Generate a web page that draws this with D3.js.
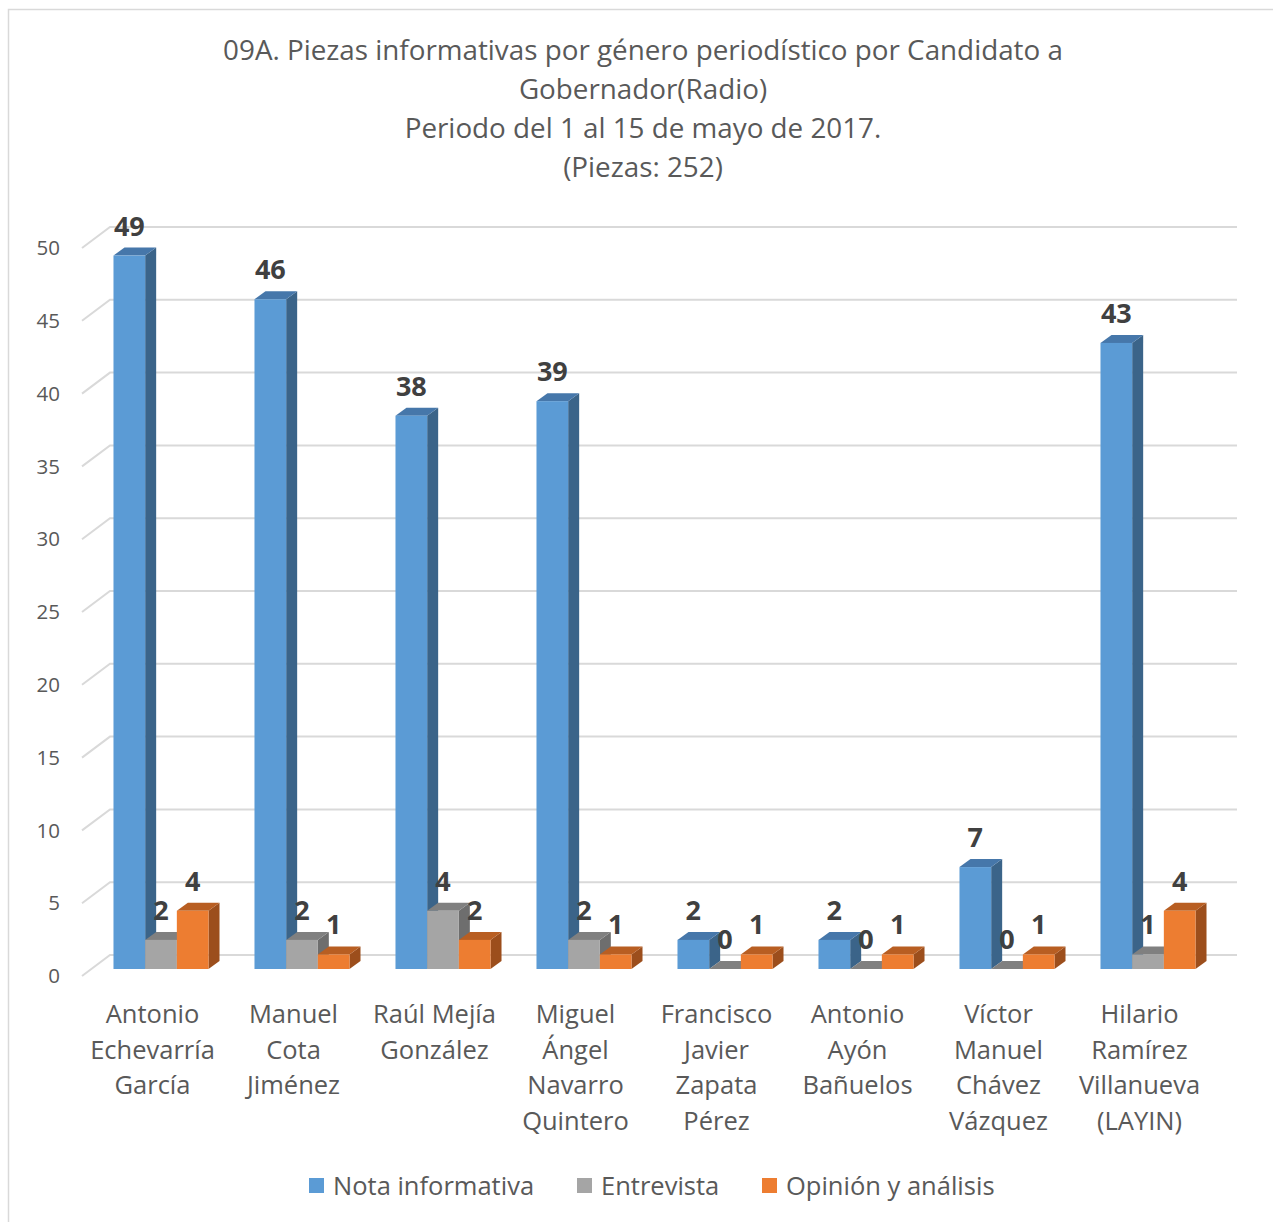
<!DOCTYPE html>
<html><head><meta charset="utf-8">
<script src="https://cdnjs.cloudflare.com/ajax/libs/d3/7.8.5/d3.min.js"></script>
<style>body{margin:0;background:#fff}svg{display:block}text{font-family:"Open Sans",sans-serif}</style>
</head><body><svg id="c" width="1273" height="1222"></svg>
<script>
const titleLines = ["09A. Piezas informativas por género periodístico por Candidato a","Gobernador(Radio)","Periodo del 1 al 15 de mayo de 2017.","(Piezas: 252)"];
const categories = ["Antonio\nEchevarría\nGarcía","Manuel\nCota\nJiménez","Raúl Mejía\nGonzález","Miguel\nÁngel\nNavarro\nQuintero","Francisco\nJavier\nZapata\nPérez","Antonio\nAyón\nBañuelos","Víctor\nManuel\nChávez\nVázquez","Hilario\nRamírez\nVillanueva\n(LAYIN)"];
const seriesNames = ["Nota informativa","Entrevista","Opinión y análisis"];
const notaInformativa = [49,46,38,39,2,2,7,43];
const entrevista = [2,2,4,2,0,0,0,1];
const opinionAnalisis = [4,1,2,1,1,1,1,4];
const yTicks = [0,5,10,15,20,25,30,35,40,45,50];

const seriesValues = [notaInformativa, entrevista, opinionAnalisis];
const colors = [
  {front:"#5B9BD5", top:"#4677AA", side:"#3B6489"},
  {front:"#A5A5A5", top:"#808080", side:"#6E6E6E"},
  {front:"#ED7D31", top:"#B85E22", side:"#9C4E1C"}
];

const svg = d3.select("#c");
svg.append("rect").attr("x",8.5).attr("y",9.5).attr("width",1300).attr("height",1300)
  .attr("fill","none").attr("stroke","#D9D9D9").attr("stroke-width",1.5);

// title
svg.append("g").selectAll("text").data(titleLines).join("text")
  .attr("x",643).attr("y",(d,i)=>60+i*39).attr("text-anchor","middle")
  .attr("font-size",27.8).attr("fill","#595959").text(d=>d);

const y = d3.scaleLinear().domain([0,50]).range([976,248]);
const dX = 28, dY = 21; // wall depth
const bX = 11, bY = 8;  // bar depth
const barShiftY = 7;

// gridlines
const grid = svg.append("g").attr("stroke","#D9D9D9").attr("stroke-width",2).attr("fill","none");
yTicks.forEach(v=>{
  grid.append("path").attr("d",`M82,${y(v)}L${82+dX},${y(v)-dY}L1237,${y(v)-dY}`);
});

// y labels
svg.append("g").selectAll("text").data(yTicks).join("text")
  .attr("x",60).attr("y",d=>y(d)).attr("dy","0.35em").attr("text-anchor","end")
  .attr("font-size",20.5).attr("fill","#595959").text(d=>d);

const x = d3.scaleBand().domain(d3.range(categories.length)).range([90.5,1218.5]).paddingInner(0.326).paddingOuter(0.163);
const xs = d3.scaleBand().domain(d3.range(seriesNames.length)).range([0,x.bandwidth()]);
const yb = v => y(v)-barShiftY;

const bars = svg.append("g");
categories.forEach((c,ci)=>{
  seriesValues.forEach((vals,si)=>{
    const v = vals[ci];
    const x0 = x(ci)+xs(si), w = xs.bandwidth();
    const yt = yb(v), y0 = yb(0);
    const g = bars.append("g");
    g.append("path").attr("fill",colors[si].side)
      .attr("d",`M${x0+w},${yt}L${x0+w+bX},${yt-bY}L${x0+w+bX},${y0-bY}L${x0+w},${y0}Z`);
    g.append("path").attr("fill",colors[si].top)
      .attr("d",`M${x0},${yt}L${x0+bX},${yt-bY}L${x0+w+bX},${yt-bY}L${x0+w},${yt}Z`);
    g.append("rect").attr("fill",colors[si].front).attr("x",x0).attr("y",yt).attr("width",w).attr("height",y0-yt);
  });
});
// value labels
const lab = svg.append("g");
categories.forEach((c,ci)=>{
  seriesValues.forEach((vals,si)=>{
    const v = vals[ci];
    lab.append("text").attr("x",x(ci)+xs(si)+xs.bandwidth()/2).attr("y",yb(v)-20)
      .attr("text-anchor","middle").attr("font-size",27).attr("font-weight","bold")
      .attr("fill","#404040").text(v);
  });
});

// category labels
const cat = svg.append("g");
categories.forEach((c,ci)=>{
  const cx = 82 + (ci+0.5)*141;
  const t = cat.append("text").attr("text-anchor","middle").attr("font-size",25.5).attr("fill","#595959");
  c.split("\n").forEach((ln,li)=>{
    t.append("tspan").attr("x",cx).attr("y",1023+li*35.5).text(ln);
  });
});

// legend
const legX = [309, 577, 762];
const leg = svg.append("g");
seriesNames.forEach((n,i)=>{
  leg.append("rect").attr("x",legX[i]).attr("y",1178).attr("width",15).attr("height",15).attr("fill",colors[i].front);
  leg.append("text").attr("x",legX[i]+24).attr("y",1195).attr("font-size",25.5).attr("fill","#595959").text(n);
});
</script></body></html>
